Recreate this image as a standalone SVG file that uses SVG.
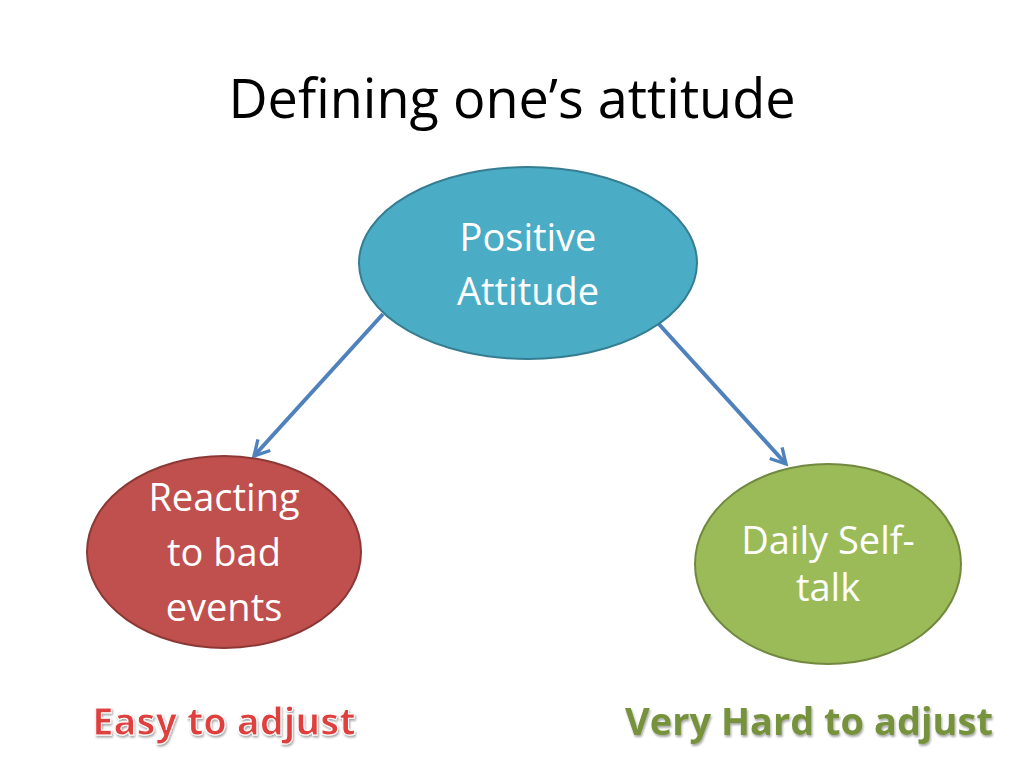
<svg xmlns="http://www.w3.org/2000/svg" width="1024" height="768" viewBox="0 0 1024 768">
<style>
.t{font-family:"Open Sans","Liberation Sans",sans-serif;text-anchor:middle}
.node{fill:#fff;font-size:38px}
.lbl{font-weight:bold;font-size:38px}
</style>
<defs>
<marker id="ah" viewBox="0 0 12 12" refX="10" refY="6" markerWidth="5" markerHeight="5" orient="auto" markerUnits="strokeWidth">
<path d="M1,1 L10,6 L1,11" fill="none" stroke="#4f81bd" stroke-width="2"/>
</marker>
<filter id="sh" x="-10%" y="-10%" width="120%" height="130%">
<feDropShadow dx="1" dy="2" stdDeviation="1.2" flood-color="#000" flood-opacity="0.35"/>
</filter>
</defs>
<rect width="1024" height="768" fill="#fff"/>
<text class="t" x="512" y="118" font-size="54" fill="#000">Defining one’s attitude</text>
<g id="connectors" stroke="#4f81bd" stroke-width="4" fill="none">
<line x1="383" y1="314" x2="254" y2="456" marker-end="url(#ah)"/>
<line x1="657" y1="322" x2="786" y2="464" marker-end="url(#ah)"/>
</g>
<g id="positive">
<ellipse cx="528" cy="263" rx="169" ry="96" fill="#4bacc6" stroke="#357d91" stroke-width="2"/>
<text class="t node" x="528" y="251">Positive</text>
<text class="t node" x="528" y="305">Attitude</text>
</g>
<g id="reacting">
<ellipse cx="224" cy="552" rx="137" ry="96" fill="#c0504d" stroke="#8c3836" stroke-width="2"/>
<text class="t node" x="224" y="511">Reacting</text>
<text class="t node" x="224" y="566">to bad</text>
<text class="t node" x="224" y="621">events</text>
</g>
<g id="selftalk">
<ellipse cx="828" cy="564" rx="133" ry="100" fill="#9bbb59" stroke="#71893f" stroke-width="2"/>
<text class="t node" x="828" y="554" font-size="30">Daily Self-</text>
<text class="t node" x="828" y="601" font-size="30">talk</text>
</g>
<g id="labels" filter="url(#sh)">
<text class="t lbl" x="224" y="735" fill="#e0403d" stroke="#fff" stroke-width="1">Easy to adjust</text>
<text class="t lbl" x="809" y="735" fill="#76923c">Very Hard to adjust</text>
</g>
</svg>
